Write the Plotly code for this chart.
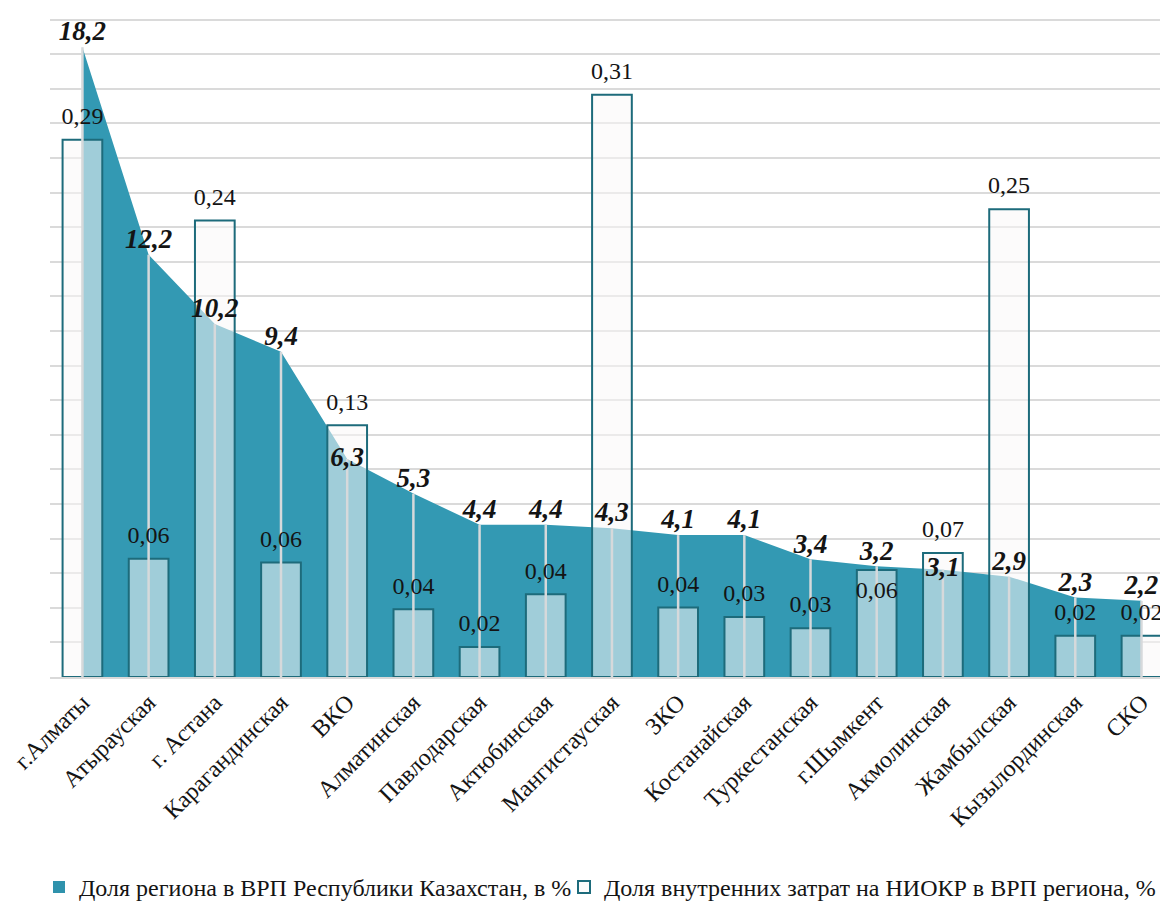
import plotly.graph_objects as go

# ---- data ----
regions = ["г.Алматы", "Атырауская", "г. Астана", "Карагандинская", "ВКО", "Алматинская",
           "Павлодарская", "Актюбинская", "Мангистауская", "ЗКО", "Костанайская",
           "Туркестанская", "г.Шымкент", "Акмолинская", "Жамбылская", "Кызылординская", "СКО"]
grp_share = [18.2, 12.2, 10.2, 9.4, 6.3, 5.3, 4.4, 4.4, 4.3, 4.1, 4.1, 3.4, 3.2, 3.1, 2.9, 2.3, 2.2]
rd_share = [0.286, 0.063, 0.243, 0.061, 0.134, 0.036, 0.016, 0.044, 0.310, 0.037, 0.032,
            0.026, 0.057, 0.066, 0.249, 0.022, 0.022]
name_grp = "Доля региона в ВРП Республики Казахстан, в %"
name_rd = "Доля внутренних затрат на НИОКР в ВРП региона, %"

# ---- styles ----
FONT = "Liberation Serif, Times New Roman, serif"
TEAL = "#3399B3"
EDGE = "#1D6B7B"
DROP = "#D6D9DB"
TXT = "#141414"

# label placement (style only)
grp_label_pos = ["middle center" if r in ("ВКО", "Акмолинская") else "top center" for r in regions]
rd_label_pos = ["bottom center" if r == "г.Шымкент" else "top center" for r in regions]

fig = go.Figure()

# area (primary axis)
fig.add_trace(go.Scatter(x=regions, y=grp_share, mode="lines", fill="tozeroy",
                         fillcolor=TEAL, line=dict(width=0, color=TEAL),
                         showlegend=False, hoverinfo="skip", yaxis="y"))

# legend entry for the area series
fig.add_trace(go.Bar(x=[None], y=[None], name=name_grp,
                     marker=dict(color="#2F92AC", line=dict(width=0)),
                     yaxis="y2", showlegend=True, legend="legend"))

# bars (secondary axis)
fig.add_trace(go.Bar(x=regions, y=rd_share, name=name_rd, width=0.6,
                     marker=dict(color="rgba(250,248,247,0.55)", line=dict(color=EDGE, width=2)),
                     yaxis="y2", showlegend=True, legend="legend2"))

# drop lines from area points
dx, dy = [], []
for r, v in zip(regions, grp_share):
    dx += [r, r, None]
    dy += [0, v, None]
fig.add_trace(go.Scatter(x=dx, y=dy, mode="lines", line=dict(color=DROP, width=2.5),
                         showlegend=False, hoverinfo="skip", yaxis="y3"))

# area value labels
fig.add_trace(go.Scatter(x=regions, y=grp_share, mode="text",
                         texttemplate="%{y:.1f}", textposition=grp_label_pos,
                         textfont=dict(family=FONT, size=27, color=TXT, weight="bold", style="italic"),
                         cliponaxis=False, showlegend=False, hoverinfo="skip", yaxis="y3"))

# bar value labels
fig.add_trace(go.Scatter(x=regions, y=rd_share, mode="markers+text",
                         marker=dict(size=14, color="rgba(0,0,0,0)"),
                         texttemplate="%{y:.2f}", textposition=rd_label_pos,
                         textfont=dict(family=FONT, size=24, color=TXT),
                         cliponaxis=False, showlegend=False, hoverinfo="skip", yaxis="y4"))

plot_h = 677.5
plot_l = 50
plot_w = 1110
ymax1 = plot_h / 34.63
ymax2 = plot_h / 1880.0
leg_y = (plot_h - 888) / plot_h

legend_common = dict(orientation="h", xanchor="left", y=leg_y, yanchor="middle",
                     font=dict(family=FONT, size=24, color=TXT), itemwidth=30,
                     bgcolor="rgba(0,0,0,0)")

fig.update_layout(
    width=1160, height=902,
    margin=dict(l=plot_l, r=1160 - plot_l - plot_w, t=0, b=902 - plot_h, pad=0, autoexpand=False),
    paper_bgcolor="white", plot_bgcolor="white",
    separators=", ",
    font=dict(family=FONT, size=24, color=TXT),
    barmode="overlay",
    showlegend=True,
    legend=dict(x=(39 - plot_l) / plot_w, **legend_common),
    legend2=dict(x=(564 - plot_l) / plot_w, **legend_common),
    xaxis=dict(type="category", range=[-0.49, 16.28], tickangle=-45, showgrid=False,
               ticks="", showline=True, linecolor="#D9D9D9", linewidth=2,
               tickfont=dict(family=FONT, size=24, color=TXT), automargin=False, zeroline=False),
    yaxis=dict(range=[0, ymax1], dtick=1, showticklabels=False, ticks="", gridcolor="#DADADA",
               gridwidth=2, zeroline=False, showline=False, automargin=False),
    yaxis2=dict(range=[0, ymax2], overlaying="y", visible=False, automargin=False),
    yaxis3=dict(range=[0, ymax1], overlaying="y", visible=False, automargin=False),
    yaxis4=dict(range=[0, ymax2], overlaying="y", visible=False, automargin=False),
)

fig.write_html("out.html", config={"displayModeBar": False},
               post_script="document.body.style.margin='0';")
